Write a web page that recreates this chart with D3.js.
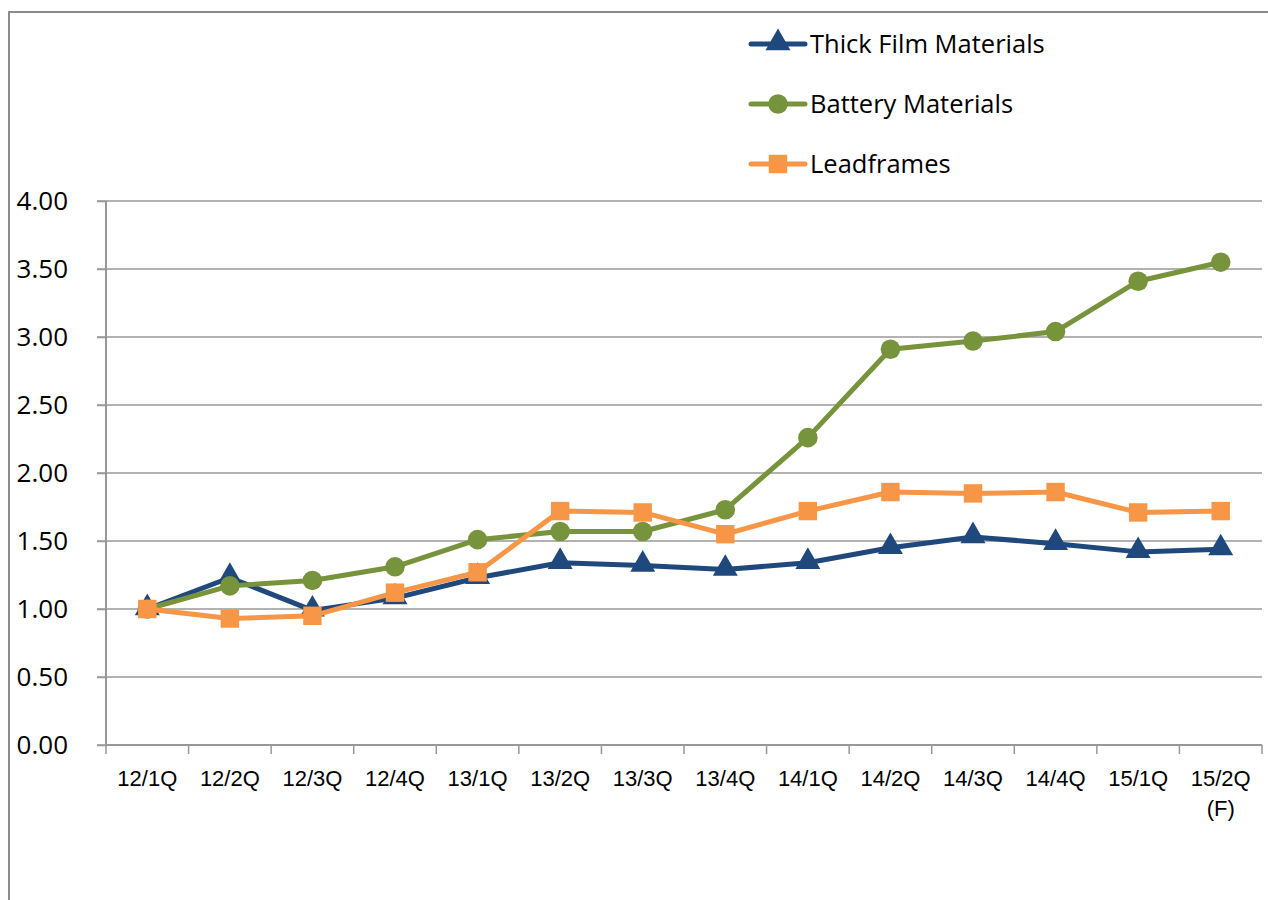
<!DOCTYPE html>
<html><head><meta charset="utf-8">
<script src="https://cdn.jsdelivr.net/npm/d3@7"></script>
<style>body{margin:0;background:#fff;}svg{display:block;font-family:"Open Sans",sans-serif;}</style>
</head><body><svg id="c" width="1268" height="900"></svg>
<script>
const categories = ["12/1Q","12/2Q","12/3Q","12/4Q","13/1Q","13/2Q","13/3Q","13/4Q","14/1Q","14/2Q","14/3Q","14/4Q","15/1Q","15/2Q\n(F)"];
const thickFilm = [1.00,1.23,0.99,1.08,1.23,1.34,1.32,1.29,1.34,1.45,1.53,1.48,1.42,1.44];
const battery   = [1.00,1.17,1.21,1.31,1.51,1.57,1.57,1.73,2.26,2.91,2.97,3.04,3.41,3.55];
const leadframes= [1.00,0.93,0.95,1.12,1.27,1.72,1.71,1.55,1.72,1.86,1.85,1.86,1.71,1.72];
const yTicks = [0,0.5,1,1.5,2,2.5,3,3.5,4];
const seriesNames = ["Thick Film Materials","Battery Materials","Leadframes"];

const series = [
  {name:seriesNames[0], values:thickFilm, color:"#1F497D", marker:"triangle"},
  {name:seriesNames[1], values:battery, color:"#77933C", marker:"circle"},
  {name:seriesNames[2], values:leadframes, color:"#F79646", marker:"square"}
];

const svg = d3.select("#c");
const L=106, R=1262, T=201, B=745;
const x = d3.scaleBand().domain(categories).range([L,R]);
const y = d3.scaleLinear().domain([0,4]).range([B,T]);
const grid="#989898";

// frame
svg.append("path").attr("d","M9,900V12H1268").attr("fill","none").attr("stroke","#8c8c8c").attr("stroke-width",2);

// gridlines
svg.append("g").selectAll("line").data(yTicks).join("line")
  .attr("x1",L-9).attr("x2",R).attr("y1",d=>y(d)).attr("y2",d=>y(d))
  .attr("stroke",grid).attr("stroke-width",1.5);

// y axis
const yAx = svg.append("g").attr("transform",`translate(${L},0)`)
  .call(d3.axisLeft(y).tickValues(yTicks).tickFormat(d3.format(".2f")).tickSize(9).tickPadding(29));
yAx.select(".domain").attr("stroke",grid).attr("stroke-width",2).attr("d",`M0,${T}V${B}`);
yAx.selectAll(".tick line").attr("stroke",grid).attr("stroke-width",1.5);
yAx.selectAll("text").attr("font-size",26).attr("fill","#000").attr("font-family","Open Sans");

// x axis
const xAx = svg.append("g").attr("transform",`translate(0,${B})`)
  .call(d3.axisBottom(x).tickSize(0).tickFormat(""));
xAx.select(".domain").attr("stroke",grid).attr("stroke-width",2).attr("d",`M${L},0H${R}`);
const bounds = categories.map(c=>x(c)).concat([R]);
xAx.selectAll(".bt").data(bounds).join("line").attr("class","bt")
  .attr("x1",d=>d).attr("x2",d=>d).attr("y1",0).attr("y2",9).attr("stroke",grid).attr("stroke-width",1.5);
xAx.selectAll(".xl").data(categories).join("text").attr("class","xl")
  .attr("x",d=>x(d)+x.bandwidth()/2).attr("y",41).attr("text-anchor","middle")
  .attr("font-size",22).attr("fill","#000")
  .each(function(d){
    const parts=d.split("\n");
    d3.select(this).selectAll("tspan").data(parts).join("tspan")
      .attr("x",x(d)+x.bandwidth()/2).attr("dy",(p,i)=>i?30:0).text(p=>p);
  });

const cx = c=>x(c)+x.bandwidth()/2;
const sym = {triangle:d3.symbolTriangle, circle:d3.symbolCircle, square:d3.symbolSquare};
const symSize = {triangle:270, circle:300, square:340};

series.forEach(s=>{
  const g=svg.append("g");
  g.append("path").datum(s.values)
    .attr("d",d3.line().x((v,i)=>cx(categories[i])).y(v=>y(v)))
    .attr("fill","none").attr("stroke",s.color).attr("stroke-width",5).attr("stroke-linejoin","round");
  g.selectAll("path.m").data(s.values).join("path").attr("class","m")
    .attr("transform",(v,i)=>`translate(${cx(categories[i])},${y(v)+(s.marker==="triangle"?-1:0)})`)
    .attr("d",d3.symbol().type(sym[s.marker]).size(symSize[s.marker]))
    .attr("fill",s.color);
});

// legend
const lg = svg.append("g");
series.forEach((s,i)=>{
  const yy = 44 + i*60;
  lg.append("line").attr("x1",751).attr("x2",805).attr("y1",yy).attr("y2",yy)
    .attr("stroke",s.color).attr("stroke-width",5).attr("stroke-linecap","round");
  lg.append("path").attr("transform",`translate(778,${yy+(s.marker==="triangle"?-1:0)})`)
    .attr("d",d3.symbol().type(sym[s.marker]).size(symSize[s.marker])).attr("fill",s.color);
  lg.append("text").attr("x",810).attr("y",yy+9).attr("font-size",25.5).attr("fill","#000").text(s.name);
});
</script></body></html>
